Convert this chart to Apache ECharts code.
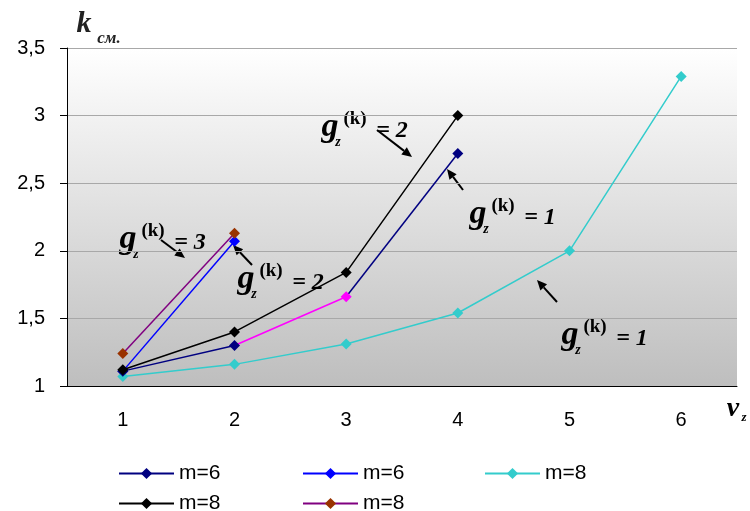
<!DOCTYPE html>
<html>
<head>
<meta charset="utf-8">
<script src="https://cdn.jsdelivr.net/npm/echarts@6/dist/echarts.min.js"></script>
<style>
  html, body { margin: 0; padding: 0; background: #fff; }
  #chart { width: 750px; height: 511px; }
</style>
</head>
<body>
<div id="chart"></div>
<script>
// данные графика
var categories = ['1', '2', '3', '4', '5', '6'];
var navyM6   = [1.11, 1.30, 1.66, 2.72];
var blueM6   = [1.11, 2.07];
var cyanM8   = [1.07, 1.16, 1.31, 1.54, 2.00, 3.29];
var blackM8  = [1.12, 1.40, 1.84, 3.00];
var purpleM8 = [1.24, 2.13];
var yTicks   = [1, 1.5, 2, 2.5, 3, 3.5];
var legendNames = ['m=6#1', 'm=6#2', 'm=8#3', 'm=8#4', 'm=8#5'];
// подписи g_z^(k) = n
var annotValues = ['2', '1', '3', '2', '1'];

var chart = echarts.init(document.getElementById('chart'));

var serifB = 'italic bold ';
function annot(x, y, val) {
  return {
    type: 'group', x: x, y: y, silent: true,
    children: [
      { type: 'text', x: 0, y: -1, style: { text: 'g', font: serifB + '34px "Liberation Serif"', fill: '#000', align: 'center', verticalAlign: 'middle' } },
      { type: 'text', x: 8, y: 14, style: { text: 'z', font: serifB + '14px "Liberation Serif"', fill: '#000', align: 'center', verticalAlign: 'middle' } },
      { type: 'text', x: 25, y: -9, style: { text: '(k)', font: 'bold 19px "Liberation Serif"', fill: '#000', align: 'center', verticalAlign: 'middle' } },
      { type: 'text', x: 62, y: 3, style: { text: '= ' + val, font: serifB + '24px "Liberation Serif"', fill: '#000', align: 'center', verticalAlign: 'middle' } }
    ]
  };
}

function arrow(x1, y1, x2, y2) {
  var a = Math.atan2(y2 - y1, x2 - x1);
  var L = 10, W = 4.5;
  var bx = x2 - L * Math.cos(a), by = y2 - L * Math.sin(a);
  return {
    type: 'group', silent: true,
    children: [
      { type: 'line', shape: { x1: x1, y1: y1, x2: bx, y2: by }, style: { stroke: '#000', lineWidth: 2 } },
      { type: 'polygon', shape: { points: [[x2, y2], [bx + W * Math.sin(a), by - W * Math.cos(a)], [bx - W * Math.sin(a), by + W * Math.cos(a)]] }, style: { fill: '#000' } }
    ]
  };
}

var annotPos = [[330, 128], [478, 215], [128, 240], [246, 280], [570, 336]];
var arrows = [
  [377, 130, 412, 157],
  [463, 190, 447, 169],
  [161, 240, 185, 258],
  [252, 265, 233, 245],
  [557, 302, 537, 280]
];

var graphics = [];
annotPos.forEach(function (p, i) { graphics.push(annot(p[0], p[1], annotValues[i])); });
arrows.forEach(function (a) { graphics.push(arrow(a[0], a[1], a[2], a[3])); });
// подписи осей
graphics.push({ type: 'text', x: 84, y: 24, style: { text: 'k', font: 'italic bold 30px "Liberation Serif"', fill: '#222', align: 'center', verticalAlign: 'middle' } });
graphics.push({ type: 'text', x: 109, y: 39, style: { text: 'см.', font: 'italic bold 17px "Liberation Serif"', fill: '#222', align: 'center', verticalAlign: 'middle' } });
graphics.push({ type: 'text', x: 733, y: 409, style: { text: 'ν', font: 'italic bold 28px "Liberation Serif"', fill: '#000', align: 'center', verticalAlign: 'middle' } });
graphics.push({ type: 'text', x: 744, y: 418, style: { text: 'z', font: 'italic bold 13px "Liberation Serif"', fill: '#000', align: 'center', verticalAlign: 'middle' } });

function lineSeries(name, data, color, symColor, z) {
  return {
    name: name, type: 'line', data: data, z: z || 2,
    symbol: 'diamond', symbolSize: 11,
    lineStyle: { color: color, width: 1.5 },
    itemStyle: { color: symColor || color },
    emphasis: { disabled: true }
  };
}

// тёмно-синяя линия: участок 2-3 розовый
var navyA = navyM6.slice(0, 2);
var pinkPart = [null, { value: navyM6[1], symbol: 'none' }, navyM6[2]];
var navyB = [null, null, { value: navyM6[2], symbol: 'none' }, navyM6[3]];

var legendLeft = [118, 302, 484, 118, 302];
var legendTop = [463, 463, 463, 493, 493];
var legends = legendNames.map(function (n, i) {
  return {
    data: [n], left: legendLeft[i], top: legendTop[i], padding: 0,
    itemWidth: 55, itemHeight: 14, itemGap: 0, selectedMode: false,
    formatter: function (name) { return name.split('#')[0]; },
    textStyle: { fontSize: 21, color: '#000', fontFamily: 'Liberation Sans' }
  };
});

var option = {
  animation: false,
  backgroundColor: '#fff',
  legend: legends,
  grid: {
    left: 67, right: 13, top: 48, bottom: 125, show: true, borderWidth: 0,
    backgroundColor: new echarts.graphic.LinearGradient(0, 0, 0, 1, [
      { offset: 0, color: '#ffffff' }, { offset: 1, color: '#bebebe' }
    ])
  },
  xAxis: {
    type: 'category', data: categories, boundaryGap: true,
    axisLine: { lineStyle: { color: '#000', width: 1 } },
    axisTick: { length: 7, lineStyle: { color: '#000' } },
    axisLabel: { fontSize: 20, color: '#000', fontFamily: 'Liberation Sans', margin: 24 },
    splitLine: { show: false }
  },
  yAxis: {
    type: 'value', min: yTicks[0], max: yTicks[yTicks.length - 1], interval: 0.5,
    axisLine: { show: true, lineStyle: { color: '#000', width: 1 } },
    axisTick: { show: true, length: 7, lineStyle: { color: '#000' } },
    axisLabel: {
      fontSize: 20, color: '#000', fontFamily: 'Liberation Sans', margin: 22,
      formatter: function (v) { return String(v).replace('.', ','); }
    },
    splitLine: { lineStyle: { color: '#a8a8a8', width: 1 } }
  },
  series: [
    lineSeries(legendNames[0], navyA, '#000080', null, 3),
    lineSeries(legendNames[1], blueM6, '#0000ff'),
    lineSeries(legendNames[2], cyanM8, '#33cccc'),
    lineSeries(legendNames[3], blackM8, '#000000', null, 4),
    lineSeries(legendNames[4], purpleM8, '#800080', '#993300', 4),
    lineSeries('pink', pinkPart, '#ff00ff', null, 2),
    lineSeries('navyB', navyB, '#000080', null, 1)
  ],
  graphic: graphics
};
chart.setOption(option);
</script>
</body>
</html>
